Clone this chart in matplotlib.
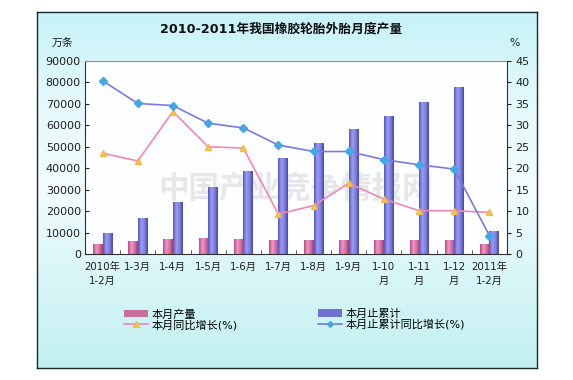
import numpy as np
import matplotlib
matplotlib.use("Agg")
import matplotlib.pyplot as plt
from matplotlib.colors import LinearSegmentedColormap
from matplotlib.patches import Rectangle, Patch
from matplotlib.lines import Line2D

plt.rcParams['font.family'] = ['DejaVu Sans', 'Noto Sans CJK SC']

# ---- data ----
categories = ["2010年\n1-2月", "1-3月", "1-4月", "1-5月", "1-6月", "1-7月", "1-8月",
              "1-9月", "1-10\n月", "1-11\n月", "1-12\n月", "2011年\n1-2月"]
monthly_output = [4700, 6200, 7000, 7450, 7000, 6400, 6700, 6700, 6400, 6700, 6700, 4700]
cumulative_output = [10000, 16650, 24400, 31100, 38850, 44600, 51600, 58300, 64200, 71000, 77700, 10600]
monthly_yoy = [23.5, 21.7, 33.2, 25.0, 24.7, 9.3, 11.3, 16.5, 12.8, 10.1, 10.1, 9.7]
cumulative_yoy = [40.4, 35.1, 34.6, 30.5, 29.4, 25.4, 23.9, 23.9, 22.0, 20.8, 19.8, 4.3]
left_ticks = [0, 10000, 20000, 30000, 40000, 50000, 60000, 70000, 80000, 90000]
right_ticks = [0, 5, 10, 15, 20, 25, 30, 35, 40, 45]

title = "2010-2011年我国橡胶轮胎外胎月度产量"
labels = ["本月产量", "本月止累计", "本月同比增长(%)", "本月止累计同比增长(%)"]

W, H = 573, 380
fig = plt.figure(figsize=(W / 100, H / 100), dpi=100)
fig.patch.set_facecolor('white')

# ---- outer frame with gradient ----
fx0, fy0, fx1, fy1 = 37, 12, 537, 368
bg = fig.add_axes([fx0 / W, 1 - fy1 / H, (fx1 - fx0) / W, (fy1 - fy0) / H], zorder=0)
bg_cmap = LinearSegmentedColormap.from_list('bg', ['#c6f2f8', '#e4f9fb', '#f2fcfd', '#d8f6f7', '#c2f0f0'])
grad = np.linspace(0, 1, 256).reshape(-1, 1)
bg.imshow(grad, cmap=bg_cmap, aspect='auto', extent=[0, 1, 0, 1], origin='upper')
bg.set_xlim(0, 1); bg.set_ylim(0, 1)
bg.set_xticks([]); bg.set_yticks([])
for s in bg.spines.values():
    s.set_color('#1a2a2a'); s.set_linewidth(1.0)

# ---- main axes ----
px0, py0, px1, py1 = 85, 61, 507, 254
ax = fig.add_axes([px0 / W, 1 - py1 / H, (px1 - px0) / W, (py1 - py0) / H], zorder=2)
ax.set_facecolor('none')
ax.add_patch(Rectangle((0, 0), 1, 1, transform=ax.transAxes, facecolor='#fcfeff',
                       edgecolor='none', zorder=0))

x = np.arange(len(categories))
bw = 0.27
pink_bars = ax.bar(x - bw / 2, monthly_output, bw, color='#d870a4', zorder=2, linewidth=0)
blue_bars = ax.bar(x + bw / 2, cumulative_output, bw, color='#8a88e8', zorder=2, linewidth=0)

pink_cmap = LinearSegmentedColormap.from_list('pk', ['#b04c80', '#f098c8', '#d870a4', '#a03c70'])
blue_cmap = LinearSegmentedColormap.from_list('bl', ['#5454b4', '#9c9cf4', '#8080e0', '#4848a4'])
hgrad = np.linspace(0, 1, 64).reshape(1, -1)
for bars, cm in ((pink_bars, pink_cmap), (blue_bars, blue_cmap)):
    for b in bars:
        bx, by, bwid, bh = b.get_x(), b.get_y(), b.get_width(), b.get_height()
        im = ax.imshow(hgrad, cmap=cm, aspect='auto', extent=[bx, bx + bwid, by, by + bh],
                       zorder=2.1, interpolation='bilinear')
        im.set_clip_path(b)

ax.set_xlim(-0.5, len(categories) - 0.5)
ax.set_ylim(0, 90000)
ax.set_yticks(left_ticks)
ax.set_yticklabels([str(v) for v in left_ticks])
ax.set_xticks(x)
ax.set_xticklabels(categories, linespacing=1.4)
ax.set_xticks(np.arange(-0.5, len(categories), 1), minor=True)
ax.tick_params(axis='x', which='major', length=0, pad=6, labelsize=7.4, colors='#202020')
ax.tick_params(axis='x', which='minor', length=3, direction='in', color='#404040')
ax.tick_params(axis='y', length=3, direction='in', labelsize=8, colors='#202020', pad=3)
ax.spines['top'].set_color('#909090')
ax.spines['left'].set_color('#303030')
ax.spines['bottom'].set_color('#303030')
ax.spines['right'].set_visible(False)

# watermark
ax.text(0.5, 0.34, "中国产业竞争情报网", transform=ax.transAxes, ha='center', va='center',
        fontsize=22, color='#dfe3e3', alpha=0.8, zorder=1.5,
        family=['Noto Sans CJK SC'], fontweight='bold')

# ---- right axis ----
ax2 = ax.twinx()
ax2.set_ylim(0, 45)
ax2.set_yticks(right_ticks)
ax2.set_yticklabels([str(v) for v in right_ticks])
ax2.tick_params(axis='y', length=3, direction='out', labelsize=8, colors='#202020', pad=3)
ax2.spines['right'].set_color('#303030')
ax2.spines['top'].set_visible(False)
ax2.spines['left'].set_visible(False)
ax2.spines['bottom'].set_visible(False)

ax2.plot(x, monthly_yoy, color='#f284c0', lw=1.2, marker='^', ms=5,
         mfc='#f8c850', mec='#f0b840', zorder=3)
ax2.plot(x, cumulative_yoy, color='#7c78e0', lw=1.2, marker='D', ms=3.6,
         mfc='#40a8e8', mec='#40a8e8', zorder=3)

# ---- texts ----
fig.text(281 / W, 1 - 29 / H, title, ha='center', va='center', fontsize=9.2,
         fontweight='bold', color='#101010')
fig.text(63 / W, 1 - 43 / H, "万条", ha='center', va='center', fontsize=7.8, color='#202020')
fig.text(515 / W, 1 - 43 / H, "%", ha='center', va='center', fontsize=7.8, color='#202020')

# ---- legends ----
h_pink = Patch(facecolor='#c8709c', edgecolor='none')
h_blue = Patch(facecolor='#7070d0', edgecolor='none')
h_pline = Line2D([], [], color='#f284c0', lw=1.2, marker='^', ms=4, mfc='#f8c850', mec='#f0b840')
h_bline = Line2D([], [], color='#7c78e0', lw=1.2, marker='D', ms=3, mfc='#40a8e8', mec='#40a8e8')
leg_kw = dict(frameon=False, fontsize=8, handlelength=2.2, handleheight=0.7,
              labelspacing=0.0, handletextpad=0.25, borderaxespad=0, borderpad=0)
fig.legend([h_pink, h_pline], [labels[0], labels[2]], loc='upper left',
           bbox_to_anchor=(124 / W, 1 - 309 / H), **leg_kw)
fig.legend([h_blue, h_bline], [labels[1], labels[3]], loc='upper left',
           bbox_to_anchor=(318 / W, 1 - 309 / H), **leg_kw)

fig.savefig('out.png', dpi=100)
